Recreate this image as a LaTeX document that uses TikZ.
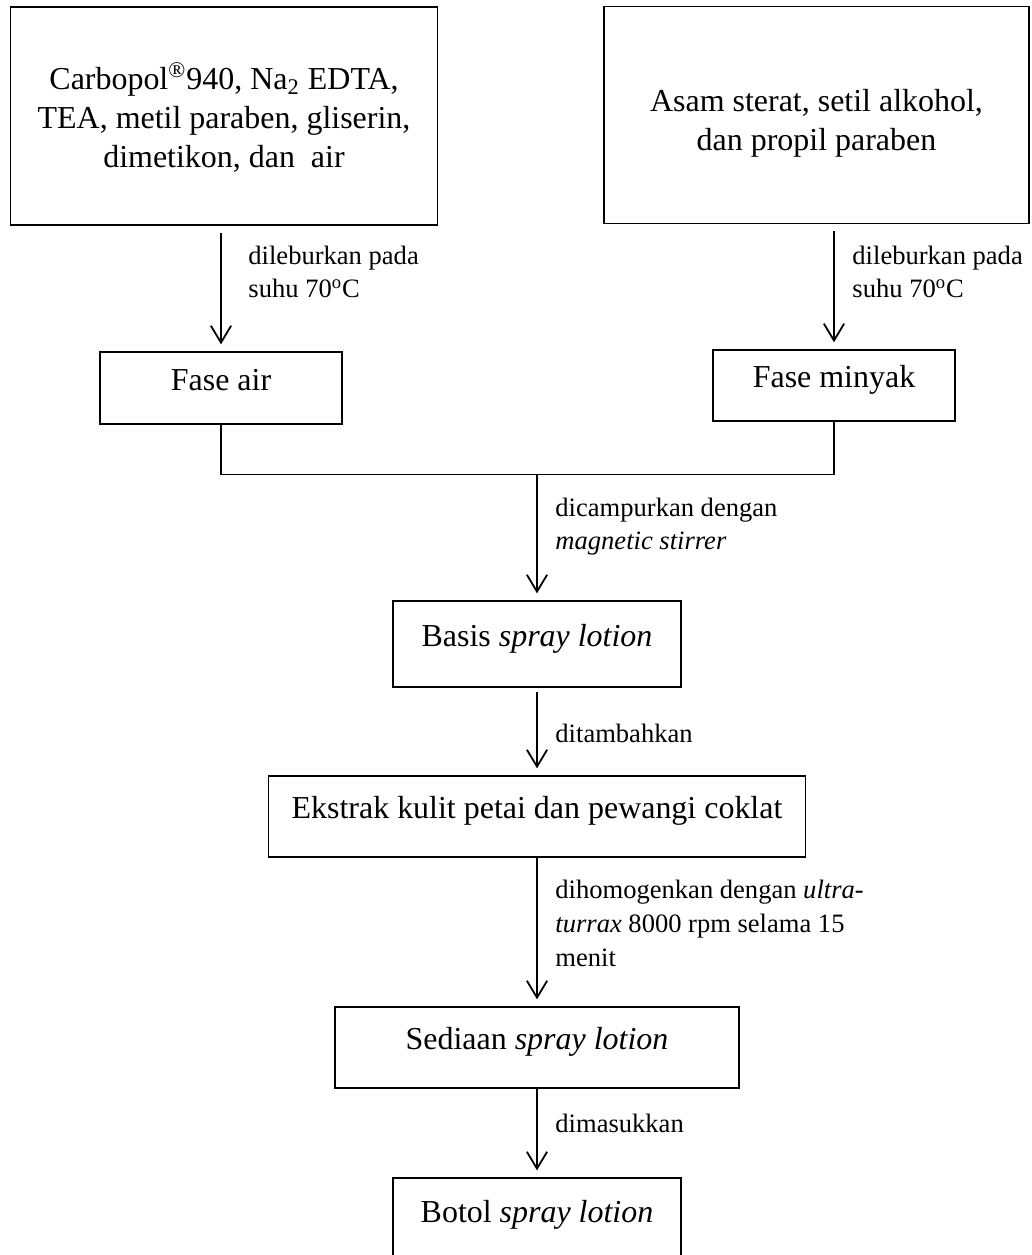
\documentclass[tikz,border=0pt]{standalone}
\usepackage{fontspec}
\setmainfont{Liberation Serif}
\usetikzlibrary{arrows.meta,positioning}

\tikzset{
  procbox/.style={draw, line width=0.8pt, font=\fontsize{14.2}{17.3}\selectfont, align=center},
  stepbox/.style={procbox, text height=10pt, text depth=8pt},
  flowarrow/.style={line width=0.8pt, -{Straight Barb[length=7.5pt,width=9pt]}, shorten >=3pt},
  note/.style={font=\fontsize{11.8}{15.1}\selectfont, align=left, anchor=base west, inner sep=0pt}
}

\begin{document}
\begin{tikzpicture}[x=0.4444pt, y=-0.4444pt]
  \useasboundingbox (0,0) rectangle (1032,1255);

  % bahan awal
  \node[procbox, minimum width=189.8pt, minimum height=96.9pt] (bahanair) at (224,116)
    {\rule{0pt}{13pt}Carbopol\textsuperscript{\textregistered}940, Na\textsubscript{2} EDTA,\\ TEA, metil paraben, gliserin,\\ dimetikon, dan~ air};
  \node[procbox, minimum width=188.9pt, minimum height=96.4pt] (bahanminyak) at (816.5,115)
    {\rule{0pt}{17pt}Asam sterat, setil alkohol,\\ dan propil paraben};

  % fase
  \node[stepbox, minimum width=107.5pt, minimum height=32pt] (faseair) at (221,388) {Fase air};
  \node[stepbox, minimum width=107.5pt, minimum height=31.6pt] (faseminyak) at (834,385.5) {Fase minyak};

  % tahap berikutnya
  \node[stepbox, minimum width=128pt, minimum height=38.2pt] (basis) at (537,644) {Basis \textit{spray lotion}};
  \node[stepbox, minimum width=238.7pt, minimum height=36pt] (ekstrak) at (537,816.5) {Ekstrak kulit petai dan pewangi coklat};
  \node[stepbox, minimum width=179.5pt, minimum height=36pt] (sediaan) at (537,1047.5) {Sediaan \textit{spray lotion}};
  \node[stepbox, minimum width=128pt, minimum height=37.3pt] (botol) at (537,1220) {Botol \textit{spray lotion}};

  % keterangan (anchor pada baris terakhir)
  \node[note] (lblair) at (248,298) {dileburkan pada\\ suhu 70\textsuperscript{o}C};
  \node[note] (lblminyak) at (852,298) {dileburkan pada\\ suhu 70\textsuperscript{o}C};
  \node[note] (lblcampur) at (555,550) {dicampurkan dengan\\ \textit{magnetic stirrer}};
  \node[note] (lbltambah) at (555,742) {ditambahkan};
  \node[note] (lblhomogen) at (555,966) {dihomogenkan dengan \textit{ultra-}\\ \textit{turrax} 8000 rpm selama 15\\ menit};
  \node[note] (lblmasuk) at (555,1132) {dimasukkan};

  % panah
  \draw[flowarrow, shorten <=3pt] (bahanair.south -| faseair.north) -- (faseair.north);
  \draw[flowarrow, shorten <=3pt] (bahanminyak.south -| faseminyak.north) -- (faseminyak.north);
  \coordinate (gabung) at (537,474.5);
  \draw[line width=0.8pt] (faseair.south) |- (gabung) -| (faseminyak.south);
  \draw[flowarrow] (gabung) -- (basis.north);
  \draw[flowarrow, shorten <=2pt] (basis) -- (ekstrak);
  \draw[flowarrow] (ekstrak) -- (sediaan);
  \draw[flowarrow] (sediaan) -- (botol);
\end{tikzpicture}
\end{document}
